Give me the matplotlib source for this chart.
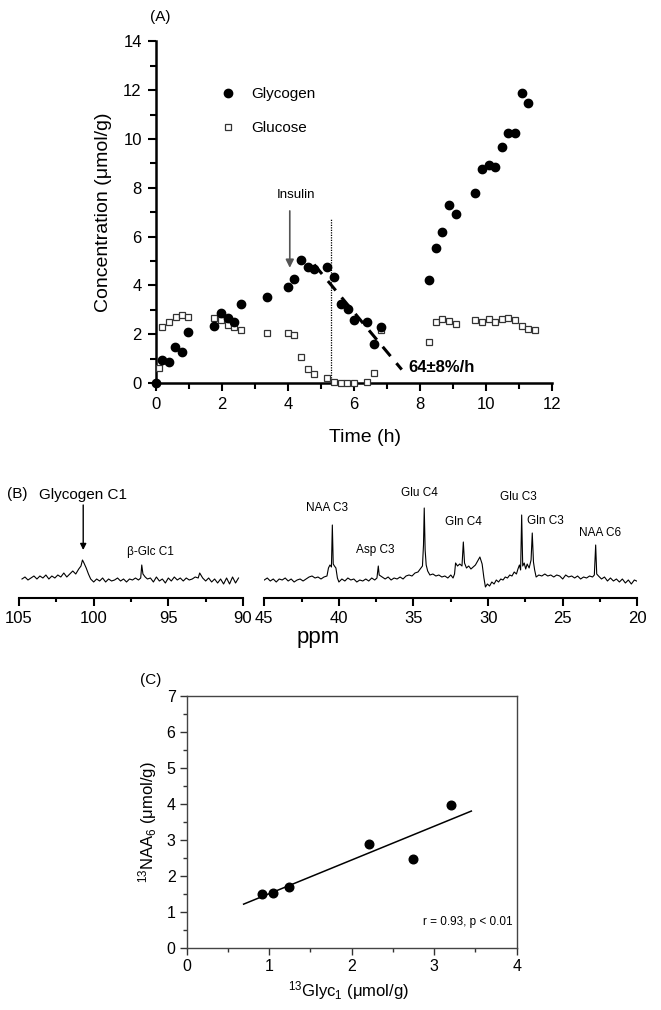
import matplotlib
matplotlib.use("Agg")
import matplotlib.pyplot as plt
import numpy as np

plt.rcParams["font.family"] = ["Liberation Sans Narrow", "Liberation Sans", "DejaVu Sans"]

# ---- panel A: glycogen / glucose time course ----
glycogen_t = [0.0, 0.2, 0.4, 0.59, 0.79, 0.99, 1.77, 1.98, 2.18, 2.38, 2.59, 3.37,
              4.01, 4.2, 4.4, 4.6, 4.8, 5.2, 5.4, 5.6, 5.81, 6.0, 6.41, 6.61, 6.81,
              8.28, 8.48, 8.68, 8.88, 9.08, 9.68, 9.87, 10.08, 10.28, 10.48, 10.68,
              10.88, 11.08, 11.28]
glycogen_c = [0.0, 0.96, 0.85, 1.47, 1.26, 2.09, 2.32, 2.85, 2.67, 2.5, 3.23, 3.53,
              3.95, 4.27, 5.02, 4.74, 4.66, 4.74, 4.36, 3.23, 3.05, 2.57, 2.5, 1.58, 2.3,
              4.21, 5.55, 6.19, 7.31, 6.91, 7.8, 8.75, 8.93, 8.83, 9.65, 10.23,
              10.23, 11.87, 11.48]
glucose_t = [0.1, 0.2, 0.4, 0.6, 0.81, 0.99, 1.77, 1.98, 2.18, 2.38, 2.59, 3.37,
             4.01, 4.2, 4.4, 4.6, 4.8, 5.2, 5.4, 5.6, 5.8, 6.0, 6.41, 6.61, 6.81,
             8.28, 8.48, 8.68, 8.88, 9.08, 9.68, 9.87, 10.08, 10.28, 10.48, 10.68,
             10.88, 11.08, 11.28, 11.48]
glucose_c = [0.6, 2.3, 2.5, 2.71, 2.78, 2.71, 2.67, 2.57, 2.36, 2.3, 2.19, 2.05,
             2.05, 1.95, 1.06, 0.58, 0.37, 0.21, 0.03, 0.0, 0.0, 0.0, 0.03, 0.4, 2.19,
             1.68, 2.5, 2.64, 2.54, 2.4, 2.57, 2.5, 2.64, 2.5, 2.64, 2.67,
             2.57, 2.34, 2.2, 2.16]
decay_t = [4.8, 7.45]
decay_c = [4.85, 0.55]
insulin_t = 4.06
dotted_t = 5.32

# ---- panel B: 13C spectrum trace (ppm, height) ----
left_trace = [
    (104.8, 1), (104.6, 3), (104.4, 0), (104.2, 2), (104.0, 4), (103.8, 1), (103.6, 4),
    (103.4, 2), (103.2, 5), (103.0, 1), (102.8, 4), (102.6, 2), (102.4, 5), (102.2, 3),
    (102.0, 7), (101.8, 3), (101.6, 6), (101.4, 9), (101.2, 6), (101.0, 11), (100.85, 14),
    (100.75, 20), (100.65, 17), (100.5, 12), (100.35, 6), (100.2, 1), (100.0, -2),
    (99.8, 1), (99.6, -1), (99.4, 2), (99.2, -2), (99.0, 1), (98.8, -1), (98.6, 0),
    (98.4, 2), (98.2, -1), (98.0, 1), (97.8, -2), (97.6, 1), (97.4, 0), (97.2, 2),
    (97.0, 0), (96.85, 2), (96.78, 15), (96.7, 6), (96.55, 3), (96.4, 1), (96.2, 2),
    (96.0, -2), (95.8, 3), (95.6, -1), (95.4, 1), (95.2, -3), (95.0, 2), (94.8, -1),
    (94.6, 3), (94.4, 0), (94.2, 2), (94.0, -1), (93.8, 2), (93.6, 0), (93.4, 1),
    (93.2, 3), (93.0, 2), (92.9, 7), (92.7, 2), (92.5, -1), (92.3, 2), (92.1, -2),
    (91.9, 1), (91.7, -3), (91.5, 1), (91.3, -4), (91.1, 2), (90.9, -4), (90.7, 3),
    (90.5, -3), (90.3, 2),
]
right_trace = [
    (45.0, 0), (44.8, 2), (44.6, -1), (44.4, 1), (44.2, -2), (44.0, 1), (43.8, 0),
    (43.6, 2), (43.4, -1), (43.2, 1), (43.0, -2), (42.8, 0), (42.6, 1), (42.4, -1),
    (42.2, 1), (42.0, 3), (41.8, 4), (41.6, 2), (41.4, 3), (41.2, 1), (41.0, 3),
    (40.8, 4), (40.7, 12), (40.6, 15), (40.5, 13), (40.44, 55), (40.38, 16), (40.3, 14),
    (40.2, 12), (40.1, 2), (40.0, -2), (39.8, 1), (39.6, -1), (39.4, 2), (39.2, 0),
    (39.0, 1), (38.8, -2), (38.6, 0), (38.4, -1), (38.2, 1), (38.0, -1), (37.8, 2),
    (37.6, 0), (37.45, 2), (37.36, 14), (37.3, 5), (37.1, 3), (36.9, 1), (36.7, 3),
    (36.5, 0), (36.3, 2), (36.1, 1), (35.9, 3), (35.7, 1), (35.5, 4), (35.3, 5),
    (35.1, 4), (34.9, 7), (34.7, 8), (34.55, 11), (34.4, 14), (34.33, 35), (34.28, 72),
    (34.22, 30), (34.15, 15), (34.05, 9), (33.9, 5), (33.7, 6), (33.5, 4), (33.3, 5),
    (33.1, 3), (32.9, 4), (32.7, 2), (32.5, 5), (32.35, 2), (32.25, 6), (32.18, 17),
    (32.05, 14), (31.9, 16), (31.75, 14), (31.66, 38), (31.58, 17), (31.45, 12),
    (31.3, 14), (31.15, 11), (31.0, 13), (30.85, 15), (30.7, 19), (30.55, 23),
    (30.4, 16), (30.28, 2), (30.18, -7), (30.05, -4), (29.9, -6), (29.75, -2),
    (29.6, -4), (29.45, 0), (29.3, -2), (29.15, 1), (29.0, 0), (28.85, 3), (28.7, 2),
    (28.55, 5), (28.4, 4), (28.25, 8), (28.1, 6), (28.0, 11), (27.9, 15), (27.82, 10),
    (27.75, 65), (27.68, 14), (27.58, 17), (27.48, 11), (27.38, 16), (27.25, 12),
    (27.12, 20), (27.04, 47), (26.96, 18), (26.88, 10), (26.78, 3), (26.6, 5),
    (26.4, 4), (26.2, 6), (26.0, 4), (25.8, 5), (25.6, 3), (25.4, 5), (25.2, 4),
    (25.0, 1), (24.8, 5), (24.6, 3), (24.4, 4), (24.2, 2), (24.0, 4), (23.8, 1),
    (23.6, 3), (23.4, 2), (23.2, 4), (23.0, 3), (22.88, 5), (22.79, 35), (22.72, 6),
    (22.6, 4), (22.4, 1), (22.2, 3), (22.0, -1), (21.8, 2), (21.6, -1), (21.4, 1),
    (21.2, -2), (21.0, 1), (20.8, -3), (20.6, 0), (20.4, -4), (20.2, 0), (20.05, -1),
]
right_labels = ["NAA C3", "Asp C3", "Glu C4", "Gln C4", "Glu C3", "Gln C3", "NAA C6"]
right_label_ppm = [40.82, 37.58, 34.59, 31.68, 27.96, 26.18, 22.5]
right_label_y = [72, 30, 87, 58, 83, 59, 47]

# ---- panel C: correlation ----
glyc1 = [0.91, 1.04, 1.24, 2.21, 2.74, 3.20]
naa6 = [1.48, 1.53, 1.70, 2.88, 2.46, 3.97]
fit_range = [0.69, 3.45]

fig = plt.figure(figsize=(6.61, 10.10), dpi=100)
W, H = 661.0, 1010.0


def px_axes(x0, y0, x1, y1):
    # pixel box (top-left origin) -> figure axes
    return fig.add_axes([x0 / W, 1 - y1 / H, (x1 - x0) / W, (y1 - y0) / H])


def px_text(x, y, s, **kw):
    fig.text(x / W, 1 - y / H, s, **kw)


# ================= A =================
ax = px_axes(155.7, 41.3, 552, 383)
ax.plot(glucose_t, glucose_c, "s", ms=4.6, mfc="white", mec="#333333", mew=0.9,
        clip_on=False, zorder=3, label="Glucose")
ax.plot(glycogen_t, glycogen_c, "o", ms=6, color="black", clip_on=False, zorder=4,
        label="Glycogen")
ax.plot(decay_t, decay_c, color="black", lw=2.2, ls=(0, (4, 3)), zorder=2)
ax.plot([dotted_t, dotted_t], [0, 6.7], color="black", lw=0.9, ls=(0, (1, 1)), zorder=1)
ax.annotate("", xy=(insulin_t, 4.72), xytext=(insulin_t, 7.05),
            arrowprops=dict(arrowstyle="-|>", color="#555555", lw=1.2,
                            mutation_scale=12, shrinkA=0, shrinkB=0))
ax.text(4.25, 7.72, "Insulin", ha="center", va="center", fontsize=9.5)
ax.text(7.66, 0.65, "64±8%/h", ha="left", va="center", fontsize=12, fontweight="bold")

ax.set_xlim(0, 12)
ax.set_ylim(0, 14)
ax.set_xticks(np.arange(0, 13, 2))
ax.set_xticks(np.arange(1, 12, 2), minor=True)
ax.set_yticks(np.arange(0, 15, 2))
ax.set_yticks(np.arange(1, 14, 2), minor=True)
ax.tick_params(which="major", length=6, width=1.5, labelsize=12, pad=4)
ax.tick_params(which="minor", length=4, width=1.5)
for s in ["top", "right"]:
    ax.spines[s].set_visible(False)
for s in ["left", "bottom"]:
    ax.spines[s].set_linewidth(1.8)

handles, labels = ax.get_legend_handles_labels()
ax.legend(handles[::-1], labels[::-1], loc="center left", bbox_to_anchor=(0.163, 0.795),
          frameon=False, fontsize=11, handlelength=1.0, handletextpad=1.0,
          labelspacing=1.3, borderpad=0, borderaxespad=0)

px_text(365, 438, "Time (h)", ha="center", va="center", fontsize=14)
px_text(104, 212, "Concentration (μmol/g)", ha="center", va="center", fontsize=14,
        rotation=90)
px_text(160, 17, "(A)", ha="center", va="center", fontsize=11)

# ================= B =================
axl = px_axes(19, 480, 243, 598.3)
axr = px_axes(264.3, 480, 637.3, 598.3)
lp, lh = zip(*left_trace)
rp, rh = zip(*right_trace)
axl.plot(lp, lh, color="black", lw=0.8)
axr.plot(rp, rh, color="black", lw=0.8)
axl.set_xlim(105, 90)
axr.set_xlim(45, 20)
for a in (axl, axr):
    a.set_ylim(-18.3, 100)
    a.patch.set_alpha(0)
    for s in ["top", "right", "left"]:
        a.spines[s].set_visible(False)
    a.spines["bottom"].set_linewidth(1.5)
    a.set_yticks([])
    a.tick_params(which="major", length=6, width=1.5, labelsize=12, pad=3)
    a.tick_params(which="minor", length=3, width=1.5)
axl.set_xticks([105, 100, 95, 90])
axl.set_xticks([102.5, 97.5, 92.5], minor=True)
axr.set_xticks([45, 40, 35, 30, 25, 20])
axr.set_xticks([42.5, 37.5, 32.5, 27.5, 22.5], minor=True)

axl.text(100.7, 85, "Glycogen C1", ha="center", va="center", fontsize=11)
axl.annotate("", xy=(100.7, 30), xytext=(100.7, 75),
             arrowprops=dict(arrowstyle="-|>", color="black", lw=1.0,
                             mutation_scale=9, shrinkA=0, shrinkB=0))
axl.text(96.2, 28, "β-Glc C1", ha="center", va="center", fontsize=8.5)
for lab, p, y in zip(right_labels, right_label_ppm, right_label_y):
    axr.text(p, y, lab, ha="center", va="center", fontsize=8.5)

px_text(318, 638, "ppm", ha="center", va="center", fontsize=16)
px_text(17, 494, "(B)", ha="center", va="center", fontsize=11)

# ================= C =================
axc = px_axes(186.7, 696, 516.7, 947.7)
axc.plot(glyc1, naa6, "o", ms=6.2, color="black", zorder=3)
slope, icpt = np.polyfit(glyc1, naa6, 1)
fx = np.array(fit_range)
axc.plot(fx, slope * fx + icpt, color="black", lw=1.1)
axc.text(2.87, 0.72, "r = 0.93, p < 0.01", ha="left", va="center", fontsize=8.5)
axc.set_xlim(0, 4)
axc.set_ylim(0, 7)
axc.set_xticks(np.arange(0, 5, 1))
axc.set_xticks(np.arange(0.5, 4, 1), minor=True)
axc.set_yticks(np.arange(0, 8, 1))
axc.set_yticks(np.arange(0.5, 7, 1), minor=True)
axc.tick_params(which="major", length=5, width=1.0, labelsize=11.5, pad=3,
                color="#333333")
axc.tick_params(which="minor", length=3, width=1.0, color="#333333")
for s in axc.spines.values():
    s.set_linewidth(1.0)
    s.set_color("#444444")

px_text(348, 991, r"$\mathregular{^{13}}$Glyc$\mathregular{_1}$ (μmol/g)",
        ha="center", va="center", fontsize=12)
px_text(148, 822, r"$\mathregular{^{13}}$NAA$\mathregular{_6}$ (μmol/g)",
        ha="center", va="center", fontsize=12, rotation=90)
px_text(151, 680, "(C)", ha="center", va="center", fontsize=11)

fig.savefig("out.png", dpi=100)
